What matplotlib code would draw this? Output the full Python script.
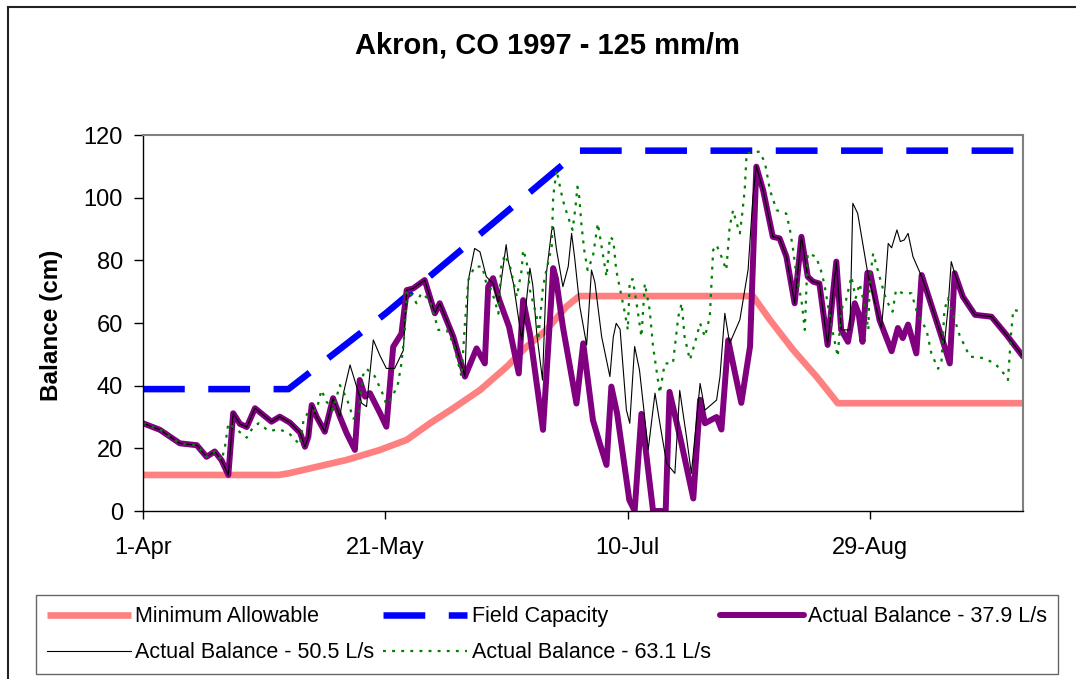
import matplotlib.pyplot as plt
from matplotlib.lines import Line2D

plt.rcParams['font.family'] = ['Liberation Sans', 'DejaVu Sans']

# x = days after 1-Apr
tick_days = [0, 50, 100, 150]
tick_labels = ['1-Apr', '21-May', '10-Jul', '29-Aug']

min_days = [0, 28, 30, 35, 42, 48.9, 54.4, 59.2, 64, 69.5, 75, 79.1, 83.2, 87.3, 90,
            125.8, 129.3, 134.1, 138.9, 143.3, 181.5]
min_vals = [11.5, 11.5, 12, 13.8, 16.3, 19.5, 22.7, 28, 32.8, 38.6, 46, 52.4, 57.8, 65.2, 68.6,
            68.6, 61, 51.4, 42.9, 34.4, 34.4]

fc_days = [0, 30, 50, 90, 181.5]
fc_vals = [38.9, 38.9, 63, 115, 115]

p37_days = [0, 3.5, 7.6, 11.1, 13.1, 14.8, 16.2, 17.6, 18.6, 20, 21.4, 23.1, 26.5, 28.2,
            30.3, 32.4, 33.4, 34.1, 34.8, 35.8, 37.5, 39.2, 40.6, 42, 43.7, 44.7, 45.8, 46.8,
            48.9, 50.2, 51.6, 53.3, 54.4, 55.7, 58.1, 60.2, 61.2, 64, 66.4, 68.8, 70.5, 71.2,
            72.2, 73.5, 75.5, 77.5, 78.4, 79.8, 82.5, 84.6, 85.2, 86.6, 89.4, 90.8, 92.8,
            94.2, 95.6, 96.6, 97.8, 100.3, 101.4, 102.8, 105.2, 107.8, 108.6, 111, 113.5,
            114.9, 115.9, 118.3, 119.3, 120.7, 122.1, 123.4, 125.2, 126.5, 127.9, 129.9,
            131.3, 132.7, 134.4, 135.8, 137.1, 138.2, 139.5, 141.2, 143, 144, 145.4, 146.8,
            147.6, 148.4, 149.4, 150, 151.9, 154.4, 155.7, 156.7, 157.8, 159.5, 160.6, 161.6,
            164.7, 166.4, 167.4, 169.1, 171.6, 175, 178.1, 181.5]
p37_vals = [28, 25.9, 21.6, 21, 17.3, 19, 16.2, 11.5, 31.2, 27.8, 26.8, 32.8, 28.5, 30.1,
            28.2, 25, 20.5, 23.7, 33.8, 30.1, 25.3, 36, 30.1, 24.8, 19.5, 41.8, 36.5, 37.6,
            31.2, 26.9, 52.4, 56.6, 70.5, 71, 73.7, 63.1, 66.3, 55.6, 42.9, 51.9, 47.1, 71.6,
            74.3, 67.3, 58.8, 43.9, 67.3, 56.6, 25.9, 77.5, 74, 58.8, 34.3, 53.5, 29,
            21.6, 14.7, 39.7, 31, 3.5, 0, 31, 0, 0, 38, 22, 4,
            35.5, 28, 30, 26, 54.5, 44, 34.5, 52.5, 109.9, 102.4, 87.5,
            87, 81.2, 66.3, 87.5, 74.8, 73.2, 72.6, 53, 79.6, 57.8, 54, 66.3,
            63, 54, 76, 75.9, 61, 51, 58.4, 55.2, 59.5, 50.3, 75.3, 70.5,
            55.6, 47.1, 75.9, 68.4, 62.6, 62, 56.2, 49.3]

b50_days = [0, 3.5, 7.6, 11.1, 13.1, 14.8, 16.2, 17.6, 18.6, 20, 21.4, 23.1, 26.5, 28.2,
            30.3, 32.4, 33.4, 34.1, 34.8, 35.8, 37.5, 39.2, 40.6, 41.4, 42.7, 45.1, 46.1,
            47.5, 48.9, 50.2, 51.9, 53.7, 54.4, 55.7, 58.1, 60.2, 61.2, 64, 66.4, 67.1, 68.4,
            69.5, 70.8, 72.2, 73.3, 73.9, 74.9, 75.3, 76.4, 78.1, 78.8, 79.8, 80.4, 81.2,
            82.4, 83.2, 84.3, 84.7, 85.3, 86.6, 87.7, 88.4, 89, 90.1, 91.5, 92.5, 93.2, 94.6,
            96.3, 97, 97.6, 98.4, 99.7, 100.4, 101.4, 102.4, 104.2, 105.6, 106.6, 108, 109.7,
            110.7, 112.1, 113.1, 114.9, 115.9, 118.3, 119, 120, 121, 123.1, 124.8, 125.8,
            126.5, 127.9, 129.9, 131.3, 132.7, 134.4, 135.8, 137.1, 138.2, 139.5, 141.2, 143,
            144, 145.8, 146.4, 147.4, 149.6, 151, 152.3, 153, 153.7, 154.4, 155.5, 156.2,
            157, 157.8, 158.8, 160.6, 161.6, 164.7, 165.3, 166, 166.7, 167.4, 169.1, 171.6,
            175, 178.1, 181.5]
b50_vals = [28, 25.9, 21.6, 21, 17.3, 19, 16.2, 11.5, 31.2, 27.8, 26.8, 32.8, 28.5, 30.1,
            28.2, 25, 20.5, 23.7, 33.8, 30.1, 25.3, 36, 30.1, 38, 46.6, 34.4, 33.3,
            54.6, 49.5, 45.5, 45.5, 51.3, 70.5, 71, 73.7, 63.1, 66.3, 55.6, 42.9, 73.7, 83.8,
            82.7, 74.8, 72.6, 66.3, 73.7, 85, 80, 72.6, 54.6, 63, 77.5, 72, 56.8,
            41.8, 75.9, 89.7, 90.5, 83.3, 71.6, 78, 88.6, 81.2, 65.2, 53, 76.9, 73, 55.6,
            42.9, 55.6, 59.9, 58, 32.2, 28, 52.5, 45, 19.6, 37.6, 28, 15.2, 12,
            38.5, 23.6, 12, 40.7, 32.2, 35.4, 42.9, 63.1, 53.5, 61, 77, 100.2,
            110, 102.4, 87.5, 87, 81.2, 66.3, 87.5, 74.8, 73.2, 72.6, 53, 79.6,
            57.8, 57.8, 98.2, 95, 74.8, 66.3, 58.4, 70.5, 85.4, 84, 89.7, 86,
            86.5, 88.6, 81.2, 74.8, 70.5, 55.6, 53.5, 64.2, 79.6, 75.9, 68.4, 62.6,
            62, 56.2, 49.3]

g63_days = [0, 3.5, 7.6, 11.1, 13.1, 14.8, 16.2, 16.9, 17.6, 19.3, 21.4, 22.4, 23.8, 25.9,
            28.3, 30.3, 32.4, 33.1, 34.1, 35.8, 36.8, 37.8, 39.2, 40.6, 42, 43.4, 44.4, 45.4,
            46.1, 47.8, 49.4, 50.2, 51.6, 52.6, 53.3, 54, 54.4, 55.7, 56.4, 57.4, 59.2, 60.9,
            62.6, 64, 65.7, 66.4, 67.1, 68.4, 70, 70.8, 71.9, 73.3, 73.9, 74.6, 75.7, 77.1,
            78.1, 78.4, 79.1, 79.8, 81.2, 81.5, 82.5, 83.2, 84.3, 84.6, 85.3, 86.3, 86.9,
            87.9, 88.6, 89.2, 89.6, 90, 90.4, 91, 91.7, 92.8, 93.8, 94.2, 94.9, 95.6, 96.3,
            97, 97.6, 98.3, 99.4, 100, 100.4, 101, 101.8, 102.8, 103.5, 104.5, 105.2, 105.9,
            106.6, 107.6, 109.3, 110.4, 111.1, 111.7, 112.8, 113.8, 114.9, 115.9, 116.9,
            117.6, 118.3, 119.3, 120.3, 121, 121.7, 122.4, 123.1, 123.6, 124.1, 124.5, 127.2,
            128.3, 129.3, 130.7, 132.7, 133.4, 134.1, 134.8, 135.8, 136.5, 137.1, 138.8,
            139.8, 140.5, 141.2, 142.3, 143.3, 144, 145, 146.1, 147, 147.8, 148.9, 149.6,
            149.9, 150.6, 151.9, 153.3, 154.6, 155.3, 156.7, 158.5, 159.8, 161.6, 162.6, 164,
            164.7, 165.3, 166, 166.9, 168.4, 170.5, 173.3, 175.7, 177.8, 178.4, 179.1, 179.5,
            181.2]
g63_vals = [28, 25.9, 21.6, 21, 17.3, 19, 16.2, 20.5, 28, 26, 23.4, 26, 28, 25.6,
            26, 24.5, 21.1, 28.9, 31.6, 32.2, 38.6, 35, 32.2, 40.2, 36, 29.5, 30.6, 43.4,
            45.4, 43, 37.5, 34, 37, 40.7, 47.1, 57.8, 70.5, 68.4, 66.3, 69.5, 67.3, 57.8,
            57.8, 53.5, 42.9, 59.9, 73.7, 78, 78, 72.6, 70.5, 63, 78, 81.8, 78, 68.4,
            76.9, 83.3, 80, 70.5, 62, 54.5, 71.6, 76.9, 84.4, 100.3, 108.8, 101.3, 97.5,
            92.8, 89.7, 97, 103.5, 100, 91.8, 83.3, 76.9, 81.2, 91.8, 88, 81.2, 74.8, 87.5,
            86.5, 76.9, 71.6, 63.1, 57.8, 73.7, 74, 66.3, 55.6, 72.6, 64.2, 52.5, 45,
            37.6, 47.1, 47.1, 62, 66.3, 55.6, 48.2, 53.5, 59.9, 55.6, 62,
            83.3, 84.9, 81.2, 76.9, 90.7, 96, 92, 88.6, 95, 102.4, 114.2, 114.7,
            111, 102.4, 96, 94.9, 90, 83.3, 74.8, 67.3, 57.8, 82.2, 81.2,
            76.9, 72.6, 66.3, 56.8, 49.3, 64.2, 67.3, 74.8, 68, 72.6, 65.2, 57.8,
            73.7, 82.2, 74.8, 67.3, 63.6, 70.5, 69.5, 69.5, 62.6, 57.8, 50.3, 45.4,
            48, 64.2, 67.9, 63.6, 56.2, 49.3, 48.8, 47.1, 43.4, 41.8, 57.8, 64.2,
            63.6]

W, H = 1076, 679
fig = plt.figure(figsize=(W / 100, H / 100), dpi=100)
fig.patch.set_facecolor('white')

# chart area border (cropped on the right and bottom)
fig.add_artist(Line2D([8 / W, 8 / W], [0, 1 - 7 / H], color='#222222', lw=1.5))
fig.add_artist(Line2D([8 / W, 1], [1 - 7 / H, 1 - 7 / H], color='#222222', lw=1.5))

ax = fig.add_axes([143 / W, 1 - 511 / H, (1023 - 143) / W, (511 - 135) / H])

h_min, = ax.plot(min_days, min_vals, color='#FF8080', lw=4.8, solid_capstyle='butt')
h_fc, = ax.plot(fc_days, fc_vals, color='#0000FF', lw=4.7, dashes=(6.4, 3.6))
h_p37, = ax.plot(p37_days, p37_vals, color='#800080', lw=4.3,
                 solid_joinstyle='round', solid_capstyle='round')
h_b50, = ax.plot(b50_days, b50_vals, color='black', lw=0.8)
h_g63, = ax.plot(g63_days, g63_vals, color='#008000', lw=1.6, dashes=(1.3, 2.8))

ax.set_xlim(0, 181.5)
ax.set_ylim(0, 120)
ax.set_xticks(tick_days)
ax.set_xticklabels(tick_labels)
ax.set_yticks(range(0, 121, 20))
ax.tick_params(axis='y', direction='out', length=6.5, width=1, labelsize=17, pad=8)
ax.tick_params(axis='x', direction='out', length=6, width=1, labelsize=17, pad=13)

for s in ['top', 'right']:
    ax.spines[s].set_color('#808080')
    ax.spines[s].set_linewidth(1.5)
for s in ['left', 'bottom']:
    ax.spines[s].set_color('black')
    ax.spines[s].set_linewidth(1)

fig.text(547 / W, 1 - 46 / H, 'Akron, CO 1997 - 125 mm/m', ha='center', va='center',
         fontsize=21, fontweight='bold')
fig.text(52 / W, 1 - 325 / H, 'Balance (cm)', ha='center', va='center', rotation=90,
         fontsize=17.5, fontweight='bold')

handles = [h_min, h_b50, h_fc, h_g63, h_p37]
labels = ['Minimum Allowable', 'Actual Balance - 50.5 L/s', 'Field Capacity',
          'Actual Balance - 63.1 L/s', 'Actual Balance - 37.9 L/s']
leg = fig.legend(handles, labels, loc='lower left',
                 bbox_to_anchor=(36 / W, 1 - 674 / H, (1058 - 36) / W, 79 / H),
                 mode='expand', ncol=3, fontsize=15.5, handlelength=3.9,
                 handletextpad=0.2, labelspacing=0.7, borderpad=0.5,
                 frameon=True, fancybox=False, borderaxespad=0)
leg.get_frame().set_edgecolor('#404040')
leg.get_frame().set_linewidth(1)

fig.savefig('out.png', dpi=100)
